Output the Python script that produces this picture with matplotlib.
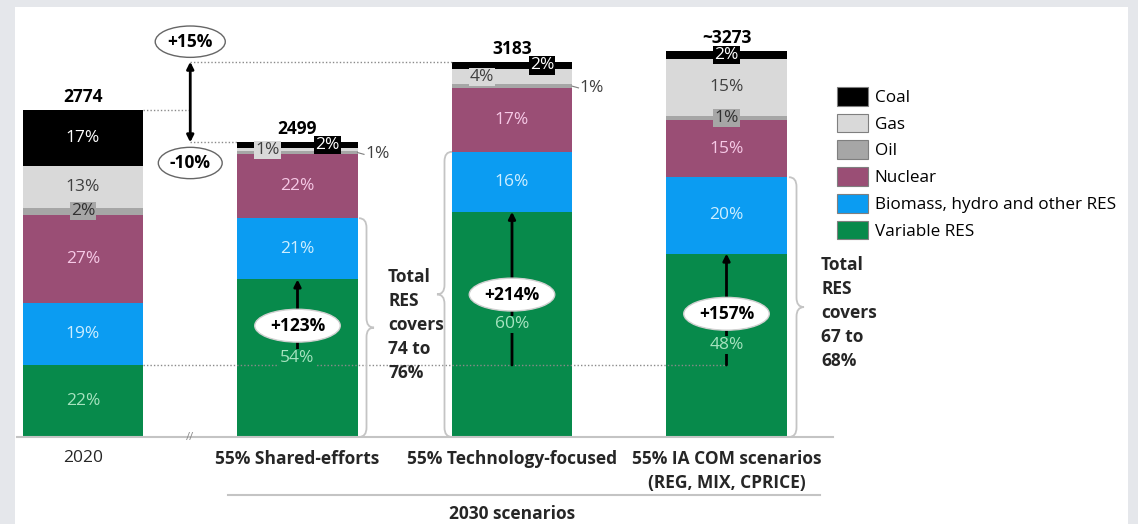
import numpy as np
import matplotlib
matplotlib.use("Agg")
import matplotlib.pyplot as plt
from matplotlib.patches import Patch, PathPatch
from matplotlib.path import Path

plt.rcParams['font.family'] = ['Open Sans', 'DejaVu Sans']

# --- data (shares in % of total gross electricity generation, totals in TWh)
categories = ['2020', '55% Shared-efforts', '55% Technology-focused',
              '55% IA COM scenarios\n(REG, MIX, CPRICE)']
totals = [2774, 2499, 3183, 3273]
total_labels = ['2774', '2499', '3183', '~3273']
sources = ['Variable RES', 'Biomass, hydro and other RES', 'Nuclear', 'Oil', 'Gas', 'Coal']
variable_res = [22, 54, 60, 48]
biomass_hydro = [19, 21, 16, 20]
nuclear = [27, 22, 17, 15]
oil = [2, 1, 1, 1]
gas = [13, 1, 4, 15]
coal = [17, 2, 2, 2]
growth_labels = ['+123%', '+214%', '+157%']
change_labels = ['+15%', '-10%']
res_notes = ['Total\nRES\ncovers\n74 to\n76%', 'Total\nRES\ncovers\n67 to\n68%']

colors = ['#078a4b', '#0b9cf2', '#9a4e75', '#a6a6a6', '#d9d9d9', '#000000']
text_colors = ['#a6e3bf', '#cdeeff', '#f6c9e6', '#303030', '#404040', '#ffffff']
grey_line = '#c4c4c4'
FS = 12.5

# where the small percentages go: (source index, bar index) -> placement
small_place = {(3, 0): 'center', (4, 1): 'left', (5, 1): 'right', (3, 1): 'outside',
               (4, 2): 'left', (5, 2): 'right', (3, 2): 'outside',
               (3, 3): 'center', (5, 3): 'center'}

# pixel layout helpers (bar centre 0 at px 83, 214.5 px per bar, baseline at px 437)
X0, XS, Y0, YS = 83, 214.5, 437, 0.1179
def dx(px):
    return (px - X0) / XS
def dy(py):
    return (Y0 - py) / YS

fig = plt.figure(figsize=(11.38, 5.24), dpi=100, facecolor='#e5e7eb')
ax = fig.add_axes([15 / 1138, 0, 1113 / 1138, 517 / 524], facecolor='white')
ax.set_xlim(dx(15), dx(1128))
ax.set_ylim(dy(524), dy(7))
for s in ax.spines.values():
    s.set_visible(False)
ax.set_xticks([])
ax.set_yticks([])

x = np.arange(len(categories))
width = 0.56
shares = np.array([variable_res, biomass_hydro, nuclear, oil, gas, coal], dtype=float)
heights = shares / shares.sum(axis=0) * np.array(totals)
bottoms = np.vstack([np.zeros(len(x)), np.cumsum(heights, axis=0)[:-1]])

for i, src in enumerate(sources):
    ax.bar(x, heights[i], width, bottom=bottoms[i], color=colors[i], linewidth=0,
           label=src, zorder=2)

# percentage labels
for j in range(len(x)):
    for i in range(len(sources)):
        cy = bottoms[i, j] + heights[i, j] / 2
        txt = f'{shares[i, j]:.0f}%'
        place = small_place.get((i, j))
        if place is None:
            bbox = None
            if i == 0:
                bbox = dict(boxstyle='square,pad=0.05', fc=colors[0], ec='none')
            ax.text(j, cy, txt, ha='center', va='center', fontsize=FS,
                    color=text_colors[i], bbox=bbox, zorder=5)
        elif place == 'outside':
            xe = j + width / 2
            ax.plot([xe, xe + 0.03], [cy, cy - 15], color='#7f7f7f', lw=0.8, zorder=3)
            ax.text(xe + 0.035, cy - 15, txt, ha='left', va='center', fontsize=FS,
                    color='#404040', zorder=5)
        else:
            off = {'center': 0, 'left': -0.14, 'right': 0.14}[place]
            ax.text(j + off, cy, txt, ha='center', va='center', fontsize=FS,
                    color=text_colors[i],
                    bbox=dict(boxstyle='square,pad=0.06', fc=colors[i], ec='none'),
                    zorder=6)

# totals on top
for j in range(len(x)):
    ax.annotate(total_labels[j], (j, totals[j]), xytext=(0, 3), textcoords='offset points',
                ha='center', va='bottom', fontsize=FS, fontweight='bold')

# dotted guide lines
base_res = heights[0, 0]
ax.plot([width / 2, 3], [base_res, base_res], ls=(0, (1, 1.5)), color='#8a8a8a', lw=1, zorder=3)
ax.plot([width / 2, 0.5], [totals[0], totals[0]], ls=(0, (1, 1.5)), color='#8a8a8a', lw=1)
ax.plot([0.5, 2 - width / 2], [totals[2], totals[2]], ls=(0, (1, 1.5)), color='#8a8a8a', lw=1)
ax.plot([0.5, 1 - width / 2], [totals[1], totals[1]], ls=(0, (1, 1.5)), color='#8a8a8a', lw=1)

# +15% / -10% arrow
ax.annotate('', xy=(0.5, totals[2]), xytext=(0.5, totals[1]),
            arrowprops=dict(arrowstyle='<|-|>,head_length=0.4,head_width=0.2',
                            color='black', lw=2, shrinkA=0, shrinkB=0))
ell_top = dict(boxstyle='ellipse,pad=0.12', fc='white', ec='#666666', lw=1)
ax.text(0.5, totals[2] + 170, change_labels[0], ha='center', va='center', fontsize=FS,
        fontweight='bold', bbox=ell_top)
ax.text(0.5, totals[1] - 175, change_labels[1], ha='center', va='center', fontsize=FS,
        fontweight='bold', bbox=ell_top)

# growth arrows of variable RES vs 2020
for k, j in enumerate(range(1, len(x))):
    top = heights[0, j]
    ax.annotate('', xy=(j, top), xytext=(j, base_res),
                arrowprops=dict(arrowstyle='-|>,head_length=0.4,head_width=0.2',
                                color='black', lw=2, shrinkA=0, shrinkB=0), zorder=4)
    ax.text(j, base_res + 0.46 * (top - base_res), growth_labels[k], ha='center',
            va='center', fontsize=FS, fontweight='bold', zorder=7,
            bbox=dict(boxstyle='ellipse,pad=0.15', fc='white', ec='#d0d0d0', lw=1))


def brace(x_end, x_tip, y_top, y_bot, r=80):
    xm = (x_end + x_tip) / 2
    ym = (y_top + y_bot) / 2
    verts = [(x_end, y_top), (xm, y_top), (xm, y_top - r), (xm, ym + r),
             (xm, ym), (x_tip, ym), (xm, ym), (xm, ym - r), (xm, y_bot + r),
             (xm, y_bot), (x_end, y_bot)]
    codes = [Path.MOVETO, Path.CURVE3, Path.CURVE3, Path.LINETO,
             Path.CURVE3, Path.CURVE3, Path.CURVE3, Path.CURVE3, Path.LINETO,
             Path.CURVE3, Path.CURVE3]
    ax.add_patch(PathPatch(Path(verts, codes), fc='none', ec=grey_line, lw=1.3, zorder=3))


res_top = bottoms[2]
brace(dx(359), dx(374), res_top[1], 0)
brace(dx(452), dx(437), res_top[2], 0)
brace(dx(789), dx(804), res_top[3], 0)
ax.text(dx(388), dy(325), res_notes[0], ha='left', va='center', fontsize=FS,
        fontweight='bold', linespacing=1.42, color='#262626')
ax.text(dx(821), dy(313), res_notes[1], ha='left', va='center', fontsize=FS,
        fontweight='bold', linespacing=1.42, color='#262626')

# baseline, axis break and category labels
ax.plot([dx(17), dx(833)], [0, 0], color=grey_line, lw=1.5, zorder=3)
ax.text(0.5, 0, '//', ha='center', va='center', fontsize=8, color='#8a8a8a')
for j, cat in enumerate(categories):
    ax.text(j, dy(450), cat, ha='center', va='top', fontsize=FS,
            fontweight='normal' if j == 0 else 'bold', linespacing=1.4, color='#262626')
ax.plot([dx(228), dx(820)], [dy(495), dy(495)], color=grey_line, lw=1.5)
ax.text(2, dy(514), '2030 scenarios', ha='center', va='center', fontsize=FS,
        fontweight='bold', color='#262626')

# legend, Coal on top
handles = [Patch(fc=colors[i], ec='#7f7f7f', lw=0.8, label=sources[i])
           for i in range(len(sources) - 1, -1, -1)]
fig.legend(handles=handles, loc='upper left', bbox_to_anchor=(837 / 1138, 1 - 87 / 524),
           frameon=False, fontsize=12.3, handlelength=1.8, handleheight=1.3,
           labelspacing=0.45, handletextpad=0.4, borderpad=0, borderaxespad=0)

fig.savefig('out.png', dpi=100, facecolor=fig.get_facecolor())
